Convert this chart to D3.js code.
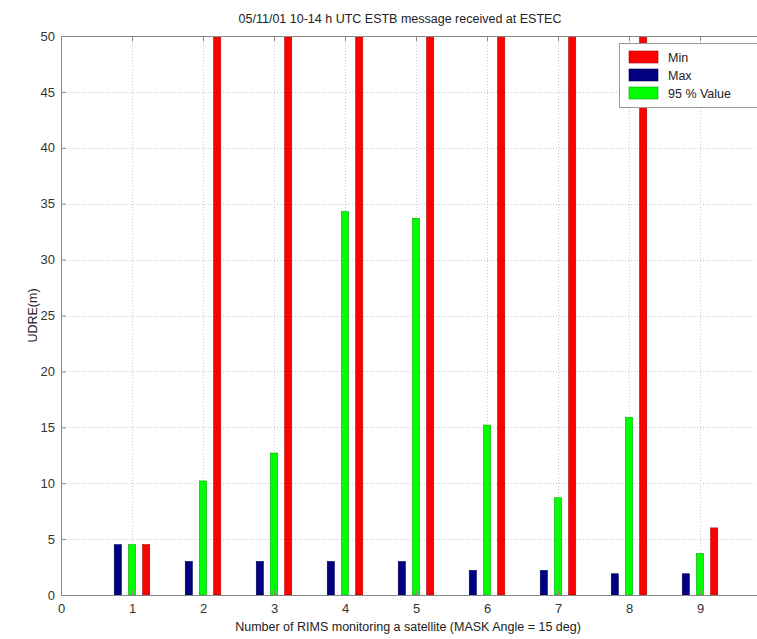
<!DOCTYPE html>
<html>
<head>
<meta charset="utf-8">
<script src="https://cdn.jsdelivr.net/npm/d3@7"></script>
<style>
  html, body { margin: 0; padding: 0; background: #fff; }
  svg { display: block; font-family: "Liberation Sans", Arial, sans-serif; }
</style>
</head>
<body>
<svg id="chart" width="757" height="639"></svg>
<script>
// Number of RIMS stations monitoring a satellite
const rimsCount = [1, 2, 3, 4, 5, 6, 7, 8, 9];
// UDRE statistics (m) per RIMS count
const maxUdre = [4.5, 3.0, 3.0, 3.0, 3.0, 2.2, 2.2, 1.9, 1.9];
const value95 = [4.5, 10.2, 12.7, 34.3, 33.7, 15.2, 8.7, 15.9, 3.7];
const minUdre = [4.5, 150, 150, 150, 150, 150, 150, 150, 6.0];
const xTicks = [0, 1, 2, 3, 4, 5, 6, 7, 8, 9];
const yTicks = [0, 5, 10, 15, 20, 25, 30, 35, 40, 45, 50];

const series = [
  { name: "Max", values: maxUdre, color: "#000080", offset: -1 },
  { name: "95 % Value", values: value95, color: "#00ff00", offset: 0 },
  { name: "Min", values: minUdre, color: "#ff0000", offset: 1 }
];
const legendOrder = ["Min", "Max", "95 % Value"];

const svg = d3.select("#chart");
const mLeft = 61, mTop = 36, mBottom = 595, mRight = 757;
const x = d3.scaleLinear().domain([0, 10]).range([mLeft, mLeft + 710]);
const y = d3.scaleLinear().domain([0, 50]).range([mBottom, mTop]);

svg.append("defs").append("clipPath").attr("id", "plotClip")
  .append("rect").attr("x", mLeft).attr("y", mTop).attr("width", mRight - mLeft).attr("height", mBottom - mTop);

// dotted grid
const grid = svg.append("g").attr("stroke", "#c8c8c8").attr("stroke-dasharray", "1,2").attr("stroke-width", 1);
grid.selectAll("line.gx").data(xTicks.slice(1)).join("line").attr("class", "gx")
  .attr("x1", d => Math.round(x(d)) + 0.5).attr("x2", d => Math.round(x(d)) + 0.5)
  .attr("y1", mTop).attr("y2", mBottom);
grid.selectAll("line.gy").data(yTicks.slice(1)).join("line").attr("class", "gy")
  .attr("x1", mLeft).attr("x2", mRight)
  .attr("y1", d => Math.round(y(d)) + 0.5).attr("y2", d => Math.round(y(d)) + 0.5);

// bars
const barW = x(0.1) - x(0);
const step = x(0.2) - x(0);
const bars = svg.append("g").attr("clip-path", "url(#plotClip)");
series.forEach(s => {
  bars.selectAll(null).data(rimsCount).join("rect")
    .attr("x", d => x(d) + s.offset * step - barW / 2)
    .attr("y", (d, i) => y(s.values[i]))
    .attr("width", barW)
    .attr("height", (d, i) => y(0) - y(s.values[i]))
    .attr("fill", s.color)
    .attr("stroke", d3.color(s.color).darker(1.2))
    .attr("stroke-width", 0.6);
});

// axes
const axisColor = "#888";
const xAxis = svg.append("g").attr("transform", `translate(0,${mBottom})`)
  .call(d3.axisBottom(x).tickValues(xTicks).tickSize(-5).tickPadding(9).tickFormat(d3.format("d")));
const yAxis = svg.append("g").attr("transform", `translate(${mLeft},0)`)
  .call(d3.axisLeft(y).tickValues(yTicks).tickSize(-5).tickPadding(6).tickFormat(d3.format("d")));
[xAxis, yAxis].forEach(a => {
  a.select(".domain").attr("stroke", axisColor);
  a.selectAll(".tick line").attr("stroke", axisColor);
  a.selectAll(".tick text").attr("fill", "#333").attr("font-size", 13)
    .attr("font-family", "Liberation Sans, Arial, sans-serif");
});
xAxis.select(".domain").attr("d", `M${mLeft},0.5H${mRight}`);
// top border with inward ticks
svg.append("line").attr("x1", mLeft).attr("x2", mRight).attr("y1", mTop + 0.5).attr("y2", mTop + 0.5)
  .attr("stroke", axisColor);
svg.append("g").selectAll("line").data(xTicks.slice(1)).join("line")
  .attr("x1", d => x(d) + 0.5).attr("x2", d => x(d) + 0.5)
  .attr("y1", mTop).attr("y2", mTop + 5).attr("stroke", axisColor);

// titles
svg.append("text").attr("x", 400).attr("y", 23).attr("text-anchor", "middle")
  .attr("font-size", 12.5).attr("fill", "#222")
  .text("05/11/01 10-14 h UTC ESTB message received at ESTEC");
svg.append("text").attr("x", 408).attr("y", 631).attr("text-anchor", "middle")
  .attr("font-size", 12.5).attr("fill", "#222")
  .text("Number of RIMS monitoring a satellite (MASK Angle = 15 deg)");
svg.append("text").attr("transform", `translate(37,${(mTop + mBottom) / 2}) rotate(-90)`)
  .attr("text-anchor", "middle").attr("font-size", 12.5).attr("fill", "#222")
  .text("UDRE(m)");

// legend
const lg = svg.append("g");
lg.append("rect").attr("x", 619.5).attr("y", 43.5).attr("width", 160).attr("height", 64)
  .attr("fill", "#fff").attr("stroke", "#999");
legendOrder.forEach((name, i) => {
  const s = series.find(t => t.name === name);
  const yy = 51 + i * 18;
  lg.append("rect").attr("x", 629).attr("y", yy).attr("width", 29).attr("height", 12)
    .attr("fill", s.color).attr("stroke", d3.color(s.color).darker(1.2)).attr("stroke-width", 0.6);
  lg.append("text").attr("x", 668).attr("y", yy + 10.5).attr("font-size", 12.5).attr("fill", "#222")
    .text(name);
});
</script>
</body>
</html>
